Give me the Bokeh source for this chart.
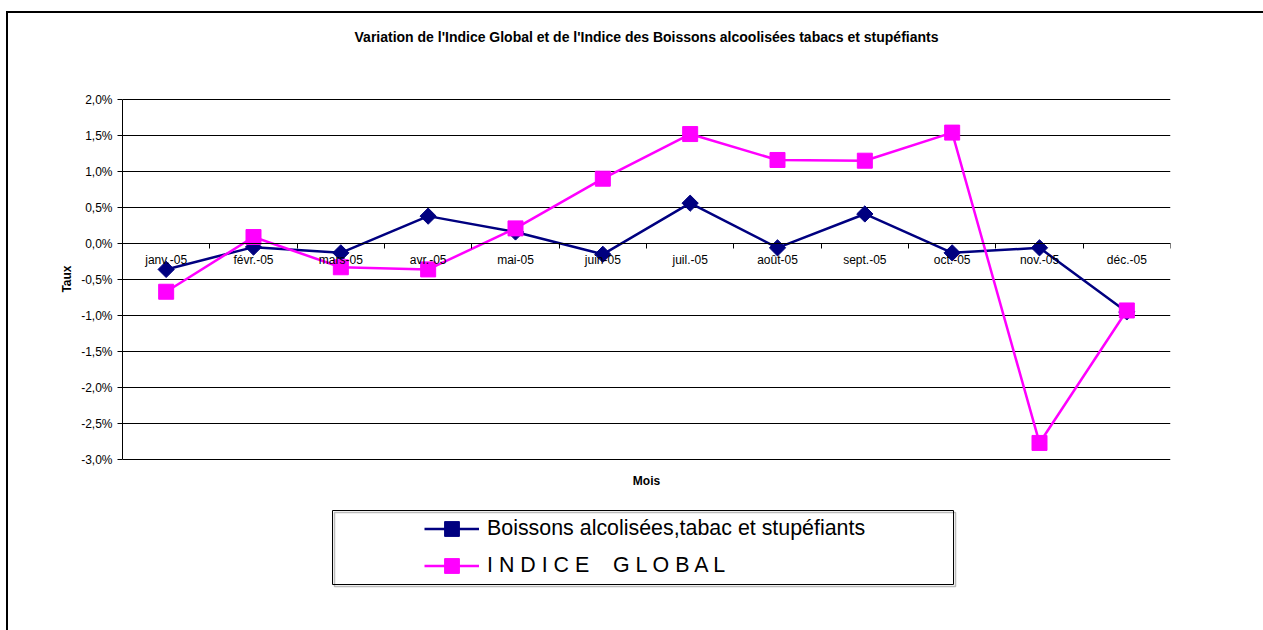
from bokeh.plotting import figure
from bokeh.models import (FixedTicker, CustomJSTickFormatter, Legend, LegendItem,
                          BoxAnnotation, Label, Range1d, InlineStyleSheet, Title)
from bokeh.embed import file_html
from bokeh.resources import INLINE

months = ["janv.-05", "févr.-05", "mars-05", "avr.-05", "mai-05", "juin-05",
          "juil.-05", "août-05", "sept.-05", "oct.-05", "nov.-05", "déc.-05"]
boissons = [-0.36, -0.05, -0.13, 0.38, 0.16, -0.15, 0.56, -0.06, 0.41, -0.13, -0.06, -0.95]
indice_global = [-0.67, 0.09, -0.33, -0.36, 0.21, 0.90, 1.52, 1.16, 1.15, 1.54, -2.77, -0.93]
y_ticks = [-3.0, -2.5, -2.0, -1.5, -1.0, -0.5, 0.0, 0.5, 1.0, 1.5, 2.0]

title_text = "Variation de l'Indice Global et de l'Indice des Boissons alcoolisées tabacs et stupéfiants"
label_boissons = "Boissons alcolisées,tabac et stupéfiants"
label_global = "I N D I C E    G L O B A L"

FONT = "Liberation Sans"
BLUE = "#000080"
PINK = "#FF00FF"

xpos = list(range(1, len(months) + 1))

# layout (pixels)
FRAME_TOP, FRAME_BOTTOM = 55, 610
AXIS_TOP_PX, AXIS_BOTTOM_PX = 99, 459      # where 2,0% and -3,0% lie
PX_PER_UNIT = (AXIS_BOTTOM_PX - AXIS_TOP_PX) / (y_ticks[-1] - y_ticks[0])
Y_TOP = y_ticks[-1] + (AXIS_TOP_PX - FRAME_TOP) / PX_PER_UNIT
Y_BOTTOM = y_ticks[0] - (FRAME_BOTTOM - AXIS_BOTTOM_PX) / PX_PER_UNIT

p = figure(frame_width=1048, frame_height=FRAME_BOTTOM - FRAME_TOP,
           output_backend="svg", toolbar_location=None,
           x_range=Range1d(0.5, len(months) + 0.5), y_range=Range1d(Y_BOTTOM, Y_TOP),
           min_border_left=122, min_border_right=93, min_border_top=FRAME_TOP,
           min_border_bottom=20, title=title_text)
p.outline_line_color = None
p.background_fill_color = "white"
p.border_fill_color = "white"

p.title.align = "center"
p.title.text_font = FONT
p.title.text_font_size = "14px"
p.title.text_font_style = "bold"
p.title.text_color = "black"
p.title.standoff = 21

# x axis crossing at y = 0
xa = p.xaxis[0]
xa.fixed_location = 0
xa.ticker = FixedTicker(ticks=xpos, minor_ticks=[i + 0.5 for i in range(0, len(months) + 1)])
xa.major_label_overrides = {i: m for i, m in zip(xpos, months)}
xa.major_tick_line_color = None
xa.major_tick_out = 5
xa.major_tick_in = 0
xa.minor_tick_line_color = "black"
xa.minor_tick_out = 5
xa.minor_tick_in = 0
xa.axis_line_color = "black"
xa.major_label_standoff = 4
xa.major_label_text_font = FONT
xa.major_label_text_font_size = "12px"
xa.major_label_text_color = "black"

ya = p.yaxis[0]
ya.bounds = (y_ticks[0], y_ticks[-1])
ya.ticker = FixedTicker(ticks=y_ticks, minor_ticks=[])
ya.formatter = CustomJSTickFormatter(code="return tick.toFixed(1).replace('.', ',') + '%';")
ya.major_tick_out = 5
ya.major_tick_in = 0
ya.major_tick_line_color = "black"
ya.axis_line_color = "black"
ya.major_label_standoff = 5
ya.major_label_text_font = FONT
ya.major_label_text_font_size = "12px"
ya.major_label_text_color = "black"

# y axis title, centred on the value axis
p.add_layout(Title(text="Taux", align="right", offset=210, standoff=10,
                   text_font=FONT, text_font_size="12px", text_font_style="bold",
                   text_color="black"),
             "left")

p.xgrid.grid_line_color = None
p.ygrid.ticker = FixedTicker(ticks=y_ticks)
p.ygrid.grid_line_color = "black"
p.ygrid.grid_line_alpha = 1.0

l1 = p.line(xpos, boissons, line_color=BLUE, line_width=2.5)
m1 = p.scatter(xpos, boissons, marker="square", size=11.5, angle=0.785398,
               fill_color=BLUE, line_color=BLUE)
l2 = p.line(xpos, indice_global, line_color=PINK, line_width=2.5)
m2 = p.scatter(xpos, indice_global, marker="square", size=15,
               fill_color=PINK, line_color=PINK)

p.add_layout(Label(x=6.5, x_units="data", y=480, y_units="canvas", text="Mois",
                   text_font=FONT, text_font_size="12px", text_font_style="bold",
                   text_color="black", text_align="center", text_baseline="middle"))

legend = Legend(items=[LegendItem(label=label_boissons, renderers=[l1, m1]),
                       LegendItem(label=label_global, renderers=[l2, m2])],
                location=(302, FRAME_BOTTOM - 584), orientation="vertical",
                glyph_width=55, glyph_height=37, label_height=37, spacing=0,
                padding=0, label_standoff=8, border_line_color=None,
                background_fill_alpha=0, label_text_font=FONT,
                label_text_font_size="21.4px", label_text_color="black")
p.add_layout(legend)

# legend frame with its light shadow
p.add_layout(BoxAnnotation(left=334, right=955, top=512, bottom=586,
                           left_units="canvas", right_units="canvas",
                           top_units="canvas", bottom_units="canvas",
                           fill_alpha=0, line_color="#bbbbbb", line_alpha=1.0,
                           line_width=1.5))
p.add_layout(BoxAnnotation(left=332, right=953, top=510, bottom=584,
                           left_units="canvas", right_units="canvas",
                           top_units="canvas", bottom_units="canvas",
                           fill_color="white", fill_alpha=0, line_color="black",
                           line_alpha=1.0, line_width=1))

p.stylesheets = [InlineStyleSheet(css="""
:host { position: relative; }
:host::after { content: ""; position: absolute; left: 6px; top: 11px;
  width: 1257px; height: 619px; border-left: 2px solid black;
  border-top: 2px solid black; pointer-events: none; box-sizing: border-box; }
""")]

open("out.html", "w").write(file_html(p, INLINE))
